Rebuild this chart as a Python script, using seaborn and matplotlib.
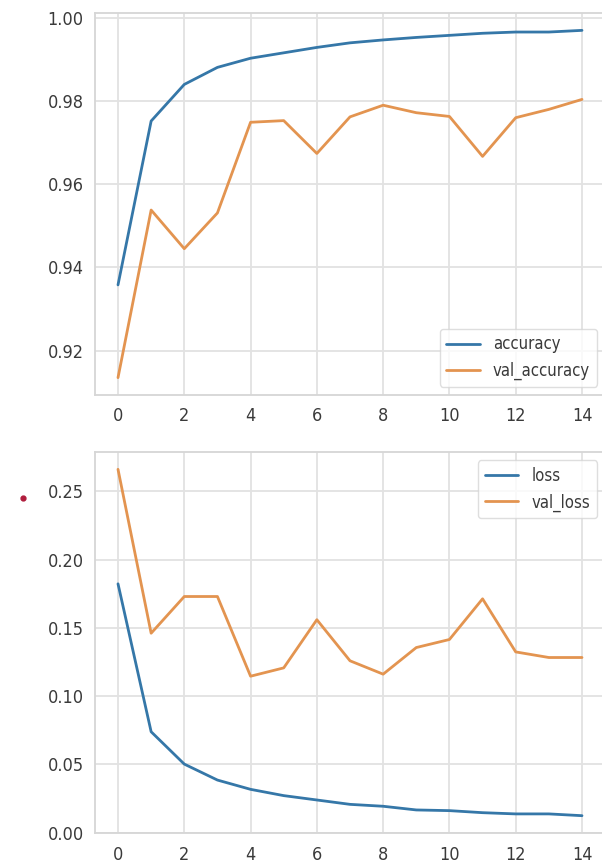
import matplotlib
matplotlib.use("Agg")
import matplotlib.pyplot as plt
from matplotlib.lines import Line2D
import numpy as np
import pandas as pd
import seaborn as sns

# Training history (15 epochs)
epochs = list(range(15))
accuracy = [0.9358, 0.9752, 0.9840, 0.9881, 0.9903, 0.9916, 0.9929, 0.9940,
            0.9947, 0.9953, 0.9958, 0.9963, 0.9966, 0.9966, 0.9970]
val_accuracy = [0.9135, 0.9538, 0.9445, 0.9531, 0.9749, 0.9753, 0.9674, 0.9762,
                0.9790, 0.9772, 0.9763, 0.9667, 0.9760, 0.9780, 0.9804]
loss = [0.1823, 0.0739, 0.0502, 0.0385, 0.0317, 0.0271, 0.0239, 0.0207,
        0.0193, 0.0166, 0.0161, 0.0146, 0.0137, 0.0137, 0.0124]
val_loss = [0.2662, 0.1461, 0.1730, 0.1730, 0.1146, 0.1207, 0.1560, 0.1259,
            0.1161, 0.1356, 0.1415, 0.1713, 0.1324, 0.1283, 0.1283]
xticks = [0, 2, 4, 6, 8, 10, 12, 14]

history = pd.DataFrame({
    "epoch": epochs,
    "accuracy": accuracy,
    "val_accuracy": val_accuracy,
    "loss": loss,
    "val_loss": val_loss,
})

sns.set_style("whitegrid")
plt.rcParams["font.family"] = ["DejaVu Sans"]
plt.rcParams["font.stretch"] = "condensed"
plt.rcParams["font.size"] = 13

BLUE = "#3577a8"
ORANGE = "#e39450"

W, H = 602, 867
fig = plt.figure(figsize=(W / 100, H / 100), dpi=100)

ax_px = [94.8, 605.2]
top_box = [13, 395]
bot_box = [452, 833]


def make_axes(box):
    left = ax_px[0] / W
    width = (ax_px[1] - ax_px[0]) / W
    bottom = (H - box[1]) / H
    height = (box[1] - box[0]) / H
    return fig.add_axes([left, bottom, width, height])


def style(ax):
    ax.set_xticks(xticks)
    ax.grid(True, color="#e2e2e2", linewidth=1.3)
    for sp in ax.spines.values():
        sp.set_color("#d6d6d6")
        sp.set_linewidth(1.3)
    ax.tick_params(axis="both", length=0, labelsize=13, labelcolor="#3a3a3a")
    ax.tick_params(axis="y", pad=8)
    ax.tick_params(axis="x", pad=9)
    ax.set_xlabel("")
    ax.set_ylabel("")


ax1 = make_axes(top_box)
sns.lineplot(data=history, x="epoch", y="accuracy", ax=ax1, color=BLUE,
             linewidth=2, label="accuracy")
sns.lineplot(data=history, x="epoch", y="val_accuracy", ax=ax1, color=ORANGE,
             linewidth=2, label="val_accuracy")
ax1.margins(x=0.05, y=0.05)
style(ax1)
ax1.legend(loc="lower right", fontsize=12, frameon=True, edgecolor="#d6d6d6",
           labelcolor="#3a3a3a")

ax2 = make_axes(bot_box)
sns.lineplot(data=history, x="epoch", y="loss", ax=ax2, color=BLUE,
             linewidth=2, label="loss")
sns.lineplot(data=history, x="epoch", y="val_loss", ax=ax2, color=ORANGE,
             linewidth=2, label="val_loss")
ax2.margins(x=0.05, y=0.05)
style(ax2)
ax2.set_yticks([0.00, 0.05, 0.10, 0.15, 0.20, 0.25])
ax2.set_yticklabels(["0.00", "0.05", "0.10", "0.15", "0.20", "0.25"])
ax2.legend(loc="upper right", fontsize=12, frameon=True, edgecolor="#d6d6d6",
           labelcolor="#3a3a3a")

# small red mark at the left margin
fig.add_artist(Line2D([23 / W], [1 - 498 / H], marker="o", markersize=3.5,
                      color="#b01c3c", linestyle="none",
                      transform=fig.transFigure))

fig.savefig("out.png", dpi=100)
